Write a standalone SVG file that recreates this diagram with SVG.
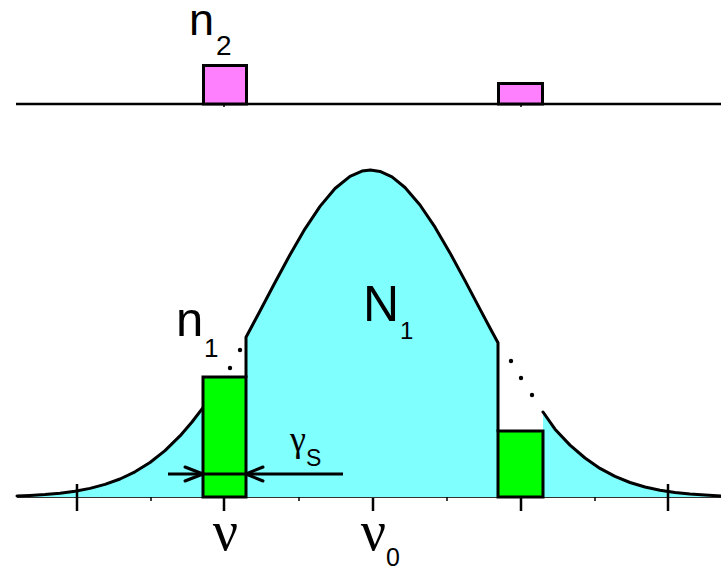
<svg xmlns="http://www.w3.org/2000/svg" width="721" height="569" viewBox="0 0 721 569">
<style>
.crv{fill:none;stroke:#000;stroke-width:3;stroke-linejoin:round;stroke-linecap:round}
.cy{fill:#80ffff;stroke:none}
.gr{fill:#00ff00;stroke:#000;stroke-width:3}
.pk{fill:#ff80ff;stroke:#000;stroke-width:3}
.tk{stroke:#000;stroke-width:2.5}
.mt{stroke:#000;stroke-width:1.5}
.s{font-family:"Liberation Sans",Arial,sans-serif;fill:#000}
.g{font-family:"Liberation Serif","Times New Roman",serif;fill:#000}
.dot{fill:#000}
</style>
<rect width="721" height="569" fill="#fff"/>
<g id="top-spectrum">
<line x1="16" y1="104" x2="721" y2="104" stroke="#000" stroke-width="2.5"/>
<line class="mt" x1="224" y1="104" x2="224" y2="107"/>
<line class="mt" x1="521" y1="104" x2="521" y2="107"/>
<rect id="n2-left" class="pk" x="203.5" y="65.5" width="43" height="38.5"/>
<rect id="n2-right" class="pk" x="498.5" y="83.5" width="44" height="20.5"/>
<text class="s" x="189" y="35" font-size="45">n</text>
<text class="s" x="216" y="55" font-size="28">2</text>
</g>
<g id="gaussian">
<path class="cy" d="M17,496 L30,495.5 45,494.6 60,493.2 75,491.2 90,488.4 105,484.4 120,479 135,471.8 150,462.5 165,450.6 180,435.9 192,422 203,407.6 L203,497 L17,497 Z"/>
<path class="cy" d="M246,337.3 L260,311 275,282.5 290,254.7 305,228.8 320,206.4 335,188.5 350,176.3 362,171.1 370.5,170 380,171.4 392,176.9 405,187.5 420,205 435,227.2 450,252.9 465,280.6 480,309.1 490,328 498,342.8 L498,497 L246,497 Z"/>
<path class="cy" d="M543,412 L555,429.2 570,445.1 585,458 600,468.4 615,476.4 630,482.5 645,487 660,490.2 675,492.5 690,494.1 705,495.1 721,495.9 L721,497 L543,497 Z"/>
<line x1="17" y1="497.5" x2="721" y2="497.5" stroke="#333" stroke-width="1.2"/>
<path class="crv" d="M17,496 L30,495.5 45,494.6 60,493.2 75,491.2 90,488.4 105,484.4 120,479 135,471.8 150,462.5 165,450.6 180,435.9 192,422 203,407.6"/>
<path class="crv" d="M246,377 L246,337.3 260,311 275,282.5 290,254.7 305,228.8 320,206.4 335,188.5 350,176.3 362,171.1 370.5,170 380,171.4 392,176.9 405,187.5 420,205 435,227.2 450,252.9 465,280.6 480,309.1 490,328 498,342.8 L498,431"/>
<path class="crv" d="M543,412 L555,429.2 570,445.1 585,458 600,468.4 615,476.4 630,482.5 645,487 660,490.2 675,492.5 690,494.1 705,495.1 721,495.9"/>
<circle class="dot" cx="230" cy="368" r="2.2"/>
<circle class="dot" cx="240" cy="350" r="2.2"/>
<circle class="dot" cx="511" cy="361" r="2.2"/>
<circle class="dot" cx="521" cy="378" r="2.2"/>
<circle class="dot" cx="532" cy="395" r="2.2"/>
</g>
<g id="holes">
<rect id="n1-hole" class="gr" x="203" y="377" width="43" height="120"/>
<rect id="hole-right" class="gr" x="498" y="431" width="45" height="66"/>
</g>
<g id="axis">
<line class="tk" x1="77" y1="484" x2="77" y2="511"/>
<line class="tk" x1="224" y1="498" x2="224" y2="511"/>
<line class="tk" x1="373" y1="498" x2="373" y2="511"/>
<line class="tk" x1="521" y1="498" x2="521" y2="511"/>
<line class="tk" x1="668" y1="484" x2="668" y2="511"/>
<line class="mt" x1="151" y1="497" x2="151" y2="501"/>
<line class="mt" x1="299" y1="497" x2="299" y2="501"/>
<line class="mt" x1="447" y1="497" x2="447" y2="501"/>
<line class="mt" x1="595" y1="497" x2="595" y2="501"/>
</g>
<g id="connectors">
<line x1="168" y1="474" x2="343" y2="474" stroke="#000" stroke-width="3"/>
<polyline class="crv" points="185,467 203,474 185,481"/>
<polyline class="crv" points="263,467 246,474 263,481"/>
</g>
<g id="labels">
<text class="s" x="176" y="336" font-size="49">n</text>
<text class="s" x="204" y="357" font-size="26">1</text>
<text class="s" x="363" y="321" font-size="50">N</text>
<text class="s" x="400" y="339" font-size="24">1</text>
<text class="g" x="298" y="451" font-size="36" text-anchor="middle">γ</text>
<text class="s" x="306" y="466" font-size="23">S</text>
<text class="g" x="225.5" y="550" font-size="56" text-anchor="middle">ν</text>
<text class="g" x="373.5" y="550" font-size="56" text-anchor="middle">ν</text>
<text class="s" x="386" y="566" font-size="25">0</text>
</g>
</svg>
